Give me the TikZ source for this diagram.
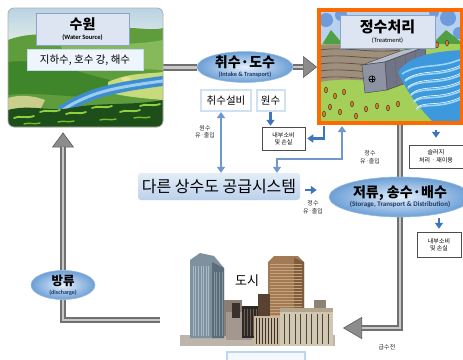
\documentclass[tikz,border=0pt]{standalone}
\usepackage{fontspec}
\setmainfont{Noto Sans CJK KR}
\newfontfamily\enf{Carlito}
\usetikzlibrary{arrows.meta,shapes.geometric,backgrounds,calc}

% palette
\definecolor{pipedark}{HTML}{707070}
\definecolor{pipelight}{HTML}{C8C8C8}
\definecolor{pipehead}{HTML}{8C8C8C}
\definecolor{flowblue}{HTML}{3F76BB}
\definecolor{ellrim}{HTML}{6C9FD6}
\definecolor{ellcore}{HTML}{E4EFFB}
\definecolor{navy}{HTML}{1F3864}
\definecolor{boxedge}{HTML}{CFE1F3}
\definecolor{torange}{HTML}{FF6A00}
\definecolor{tsky}{HTML}{B7D1EE}
\definecolor{tcloud}{HTML}{6E9BDC}
\definecolor{thill}{HTML}{4FA043}
\definecolor{tfield}{HTML}{A4D05A}
\definecolor{tdot}{HTML}{E07A1C}
\definecolor{trock}{HTML}{9E8E7C}
\definecolor{trockd}{HTML}{5B4D40}
\definecolor{twater}{HTML}{3E98DC}
\definecolor{twaterl}{HTML}{9AD6F7}
\definecolor{damfront}{HTML}{8E93A4}
\definecolor{damtop}{HTML}{B8BCC9}
\definecolor{damside}{HTML}{6F7486}
% shorthand: \hx{RRGGBB} defines colour hRRGGBB
\newcommand\hx[1]{\definecolor{h#1}{HTML}{#1}}
\hx{B9D3E4}\hx{E2EDE6}\hx{5E9C3C}\hx{86B95A}\hx{3F862A}\hx{C5DB7C}\hx{E8E29A}
\hx{3C8ED0}\hx{9CCDEE}\hx{C9CF8A}\hx{1E4E1A}\hx{8FD13F}\hx{6FBF2C}\hx{8DA2C8}
\hx{DDE5F2}\hx{C8DCEF}\hx{EEF5FC}\hx{BDB4AA}\hx{7D919E}\hx{5C6D79}\hx{A9BAC4}
\hx{8596A0}\hx{8A7D76}\hx{A39790}\hx{3A322D}\hx{2E2824}\hx{6B5F55}\hx{A27B55}
\hx{7E5C3E}\hx{C8A27A}\hx{5A4232}\hx{C9B9A0}\hx{3B332A}\hx{D2C7B0}\hx{B2A68E}
\hx{4A473C}\hx{8E8276}\hx{BBD6F0}\hx{F4F8FC}\hx{E3EDF8}\hx{BBD1EB}

\tikzset{
  pipe/.style={draw=pipedark, line width=6.5pt, line join=miter},
  pipecore/.style={draw=pipelight, line width=2.2pt, line join=miter},
  pipetip/.style={-{Triangle[length=#1,width=22pt,line width=0.6pt,fill=pipehead,color=pipedark!80!black]}},
  ell/.style={ellipse, inner sep=0pt, draw=ellrim!70!white, line width=0.6pt,
    inner color=ellcore, outer color=ellrim, align=center, text=black},
  lightbox/.style={draw=boxedge, line width=2pt, fill=white, inner sep=0pt},
  lossbox/.style={draw=black!70, line width=0.5pt, fill=white, inner sep=0pt,
    minimum height=23pt, align=center, font=\fontsize{6}{7.5}\selectfont},
  note/.style={align=center, font=\fontsize{6}{7.5}\selectfont, text=black!85},
  flow/.style={draw=flowblue, line width=2.4pt, -{Triangle[length=6pt,width=8pt]}},
  flow2/.style={draw=flowblue!75!white, line width=2.4pt,
    {Triangle[length=6pt,width=8pt]}-{Triangle[length=6pt,width=8pt]}},
}

\begin{document}
\begin{tikzpicture}[x=1pt,y=-1pt]
\useasboundingbox (0,0) rectangle (463,359);

% ---------------- water source landscape ----------------
\begin{scope}
  \clip[rounded corners=6pt] (8,8) rectangle (163,127);
  \fill[top color=hB9D3E4, bottom color=hE2EDE6] (8,8) rectangle (163,45);
  \fill[h5E9C3C] (8,40) .. controls (40,28) and (70,40) .. (100,30)
     .. controls (125,24) and (150,32) .. (163,28) -- (163,127) -- (8,127) -- cycle;
  \fill[h86B95A] (60,45) .. controls (90,40) and (120,48) .. (163,40)
     -- (163,70) .. controls (130,68) and (100,72) .. (70,62) -- cycle;
  \fill[h3F862A] (8,62) .. controls (40,58) and (70,70) .. (110,80)
     -- (100,98) .. controls (60,96) and (30,92) .. (8,95) -- cycle;
  % field on the far bank
  \fill[hC5DB7C] (108,82) .. controls (130,72) and (150,74) .. (163,72)
     -- (163,100) .. controls (140,98) and (120,96) .. (108,92) -- cycle;
  \fill[hE8E29A] (126,79) ellipse (5 and 2);
  % river
  \draw[h3C8ED0, line width=10pt]
     (170,80) .. controls (140,84) and (110,88) .. (90,96)
     .. controls (70,104) and (55,112) .. (40,135);
  \draw[h9CCDEE, line width=3pt]
     (170,80) .. controls (140,84) and (110,88) .. (90,96)
     .. controls (70,104) and (55,112) .. (40,135);
  % near bank field and forest
  \fill[hC9CF8A] (8,98) .. controls (20,94) and (35,96) .. (45,100)
     -- (40,110) -- (8,112) -- cycle;
  \fill[h1E4E1A] (8,110) .. controls (30,104) and (50,112) .. (70,108)
     .. controls (100,102) and (130,106) .. (163,100) -- (163,127) -- (8,127) -- cycle;
  \foreach \a/\b in {14/118, 40/112, 66/114, 92/108, 120/112, 140/106}
    \draw[h8FD13F, line width=1.8pt, line cap=round]
      (\a,\b) .. controls (\a+6,\b-3) and (\a+12,\b+1) .. (\a+20,\b-2);
  \foreach \a/\b in {24/124, 58/122, 100/120, 134/118}
    \draw[h6FBF2C, line width=1.4pt, line cap=round]
      (\a,\b) .. controls (\a+6,\b-2) and (\a+10,\b+1) .. (\a+16,\b-1);
\end{scope}
\node[draw=black!30, rounded corners=6pt, line width=0.8pt,
  minimum width=155pt, minimum height=119pt, inner sep=0pt] (src) at (85.5,67.5) {};
\node[draw=h8DA2C8, fill=hDDE5F2, line width=0.8pt, minimum width=93pt,
  minimum height=32pt, inner sep=0pt, align=center] (srct) at (82.5,29)
  {{\fontsize{14}{15}\selectfont\bfseries 수원}\\[-2pt]{\enf\bfseries\fontsize{6.5}{7}\selectfont (Water Source)}};
\node[draw=hC8DCEF, fill=hEEF5FC, minimum width=116pt, minimum height=21pt,
  inner sep=0pt] (srcs) at (85,60) {\fontsize{10.5}{11}\selectfont 지하수, 호수 강, 해수};

% ---------------- treatment scene ----------------
\begin{scope}
  \clip (320,12) rectangle (461,121);
  \fill[tsky] (320,12) rectangle (461,50);
  \foreach \cx/\cy/\r in {326/20/7, 341/15/6, 448/18/8, 459/33/6, 434/13/5}
    \fill[tcloud] (\cx,\cy) circle (\r);
  \fill[thill] (320,48) -- (331,30) -- (346,48) -- cycle;
  \fill[thill] (428,48) -- (446,30) -- (461,42) -- (461,48) -- cycle;
  \fill[tfield] (320,44) rectangle (461,121);
  \foreach \dx/\dy in {326/90, 335/96, 330/107, 344/92, 352/104, 324/114,
      340/112, 366/109, 377/106, 388/108, 398/104, 356/116,
      437/45, 447/43, 453/54, 443/58, 457/64}
    \filldraw[fill=tdot, draw=black!80, line width=0.4pt] (\dx,\dy) ellipse (1.6 and 2.8);
  % rock strata
  \fill[trock] (320,45) .. controls (345,42) and (370,50) .. (400,46)
     -- (400,80) .. controls (375,84) and (350,76) .. (320,82) -- cycle;
  \foreach \k in {0,1,2,3,4}
    \draw[trockd, line width=0.7pt]
      (320,50+7*\k) .. controls (345,46+7*\k) and (370,54+7*\k) .. (400,50+7*\k);
  % sluice structure
  \filldraw[fill=damtop, draw=black!70, line width=0.5pt]
    (362,65) -- (403,50) -- (425,47) -- (385,62) -- cycle;
  \filldraw[fill=damside, draw=black!70, line width=0.5pt]
    (385,62) -- (425,47) -- (428,75) -- (387,90) -- cycle;
  \filldraw[fill=damfront, draw=black!70, line width=0.5pt]
    (362,65) -- (385,62) -- (387,90) -- (365,93) -- cycle;
  \foreach \k in {1,2,3}
    \draw[black!60, line width=0.4pt] (385+10*\k,62-3.7*\k) -- (387+10*\k,90-3.7*\k);
  \draw[black, line width=0.6pt] (372,79) circle (3.2);
  \draw[black, line width=0.6pt] (368.8,79) -- (375.2,79) (372,75.8) -- (372,82.2);
  % water rushing out
  \fill[twater] (398,72) .. controls (408,58) and (425,52) .. (463,50)
     -- (463,121) -- (432,121) .. controls (420,108) and (408,95) .. (398,72) -- cycle;
  \foreach \s in {0,8,16,24,32,40}
    \draw[twaterl, line width=1.6pt]
      (402+\s*0.35,74+\s*0.9) .. controls (420,62+\s) and (440,70+\s) .. (463,58+\s);
  \foreach \s in {4,12,20,28,36}
    \draw[white, line width=0.6pt]
      (404+\s*0.35,76+\s*0.9) .. controls (422,64+\s) and (442,72+\s) .. (463,60+\s);
\end{scope}
\node[draw=torange, line width=4pt, minimum width=143pt, minimum height=113pt,
  inner sep=0pt] (treat) at (390.5,66.5) {};
\node[draw=h8DA2C8, fill=hDDE5F2, line width=0.8pt, minimum width=95pt,
  minimum height=33pt, inner sep=0pt, align=center] (treatt) at (387.5,31.5)
  {{\fontsize{15}{16}\selectfont\bfseries 정수처리}\\[-2pt]{\enf\fontsize{6.5}{7}\selectfont (Treatment)}};

% ---------------- city skyline ----------------
\begin{scope}
  \fill[hBDB4AA] (180,335) rectangle (335,346);
  % slim glass tower
  \fill[h7D919E] (190,260) -- (200,253) -- (214,256) -- (224,268) -- (224,338) -- (190,338) -- cycle;
  \fill[h5C6D79] (212,262) -- (224,268) -- (224,338) -- (212,338) -- cycle;
  \foreach \k in {0,...,6} \draw[hA9BAC4, line width=0.5pt] (193+2.6*\k,266) -- (193+2.6*\k,336);
  \foreach \k in {0,...,3} \draw[h8596A0, line width=0.5pt] (214+2.6*\k,272) -- (214+2.6*\k,336);
  % low fillers
  \fill[h8A7D76] (224,300) rectangle (242,336);
  \fill[hA39790] (226,312) rectangle (252,340);
  \fill[h3A322D] (232,303) rectangle (240,318);
  % dark block
  \fill[h2E2824] (242,306) rectangle (264,338);
  \foreach \k in {0,...,6} \draw[h6B5F55, line width=0.5pt] (244+3*\k,309) -- (244+3*\k,336);
  % brown tower
  \fill[hA27B55] (268,262) -- (274,256) -- (298,256) -- (304,262) -- (304,318) -- (268,318) -- cycle;
  \fill[h7E5C3E] (294,258) -- (304,262) -- (304,318) -- (294,318) -- cycle;
  \foreach \k in {0,...,18} \draw[hC8A27A, line width=0.4pt] (270,264+3*\k) -- (302,264+3*\k);
  \fill[h5A4232] (258,294) rectangle (270,330);
  % front striped blocks
  \fill[hC9B9A0] (254,316) rectangle (282,346);
  \foreach \k in {0,...,8} \draw[h3B332A, line width=0.6pt] (256+3*\k,318) -- (256+3*\k,344);
  \fill[hD2C7B0] (280,308) rectangle (333,346);
  \fill[hB2A68E] (280,308) rectangle (333,312);
  \foreach \k in {0,...,8} \draw[h4A473C, line width=0.9pt] (284+5.5*\k,314) -- (284+5.5*\k,344);
  \fill[h8E8276] (314,300) rectangle (326,308);
\end{scope}
\node[minimum width=155pt, minimum height=92pt, inner sep=0pt] (city) at (257,299) {};
\node[font=\fontsize{13}{14}\selectfont] (citylbl) at (247,281) {도시};

% partly visible box beneath the city
\begin{scope}
  \clip (0,0) rectangle (463,359);
  \node[draw=hBBD6F0, line width=1.5pt, fill=hF4F8FC, minimum width=78pt,
    minimum height=14pt, inner sep=0pt] (below) at (266,359) {};
\end{scope}

% ---------------- labelled stages ----------------
\node[ell, minimum width=96pt, minimum height=28pt] (intake) at (245,67)
  {{\fontsize{14}{14}\selectfont\bfseries 취수·도수}\\[-3pt]{\enf\bfseries\fontsize{6.3}{7}\selectfont\color{navy}(Intake \& Transport)}};
\node[ell, minimum width=124pt, minimum height=40pt] (stor) at (400,197)
  {{\fontsize{14}{14}\selectfont\bfseries 저류, 송수·배수}\\[-3pt]{\enf\bfseries\fontsize{7}{7.5}\selectfont\color{navy}(Storage, Transport \& Distribution)}};
\node[ell, minimum width=64pt, minimum height=27pt] (dis) at (63,285)
  {{\fontsize{12.5}{12.5}\selectfont\bfseries 방류}\\[-3pt]{\enf\bfseries\fontsize{6}{6.5}\selectfont\color{navy}(discharge)}};

\node[lightbox, minimum width=50pt, minimum height=21pt] (fac) at (226,100.5)
  {\fontsize{10.5}{11}\selectfont 취수설비};
\node[lightbox, minimum width=28pt, minimum height=21pt] (raw) at (270.5,100.5)
  {\fontsize{10.5}{11}\selectfont 원수};
\node[lossbox, minimum width=43pt] (loss1) at (283.5,138.5) {내부소비\\및 손실};
\node[lossbox, minimum width=54pt] (sludge) at (436,156.5) {슬러지\\처리 · 재이용};
\node[lossbox, minimum width=44pt, minimum height=25pt] (loss2) at (439,244.5) {내부소비\\및 손실};

\node[rounded corners=3pt, top color=hE3EDF8, bottom color=hBBD1EB,
  minimum width=162pt, minimum height=27pt, inner sep=0pt] (other) at (219,186.5)
  {\fontsize{16}{17}\selectfont 다른 상수도 공급시스템};

\node[note] (n1) at (205,132) {원수\\유·출입};
\node[note] (n2) at (370,157) {정수\\유·출입};
\node[note] (n3) at (313,207) {정수\\유·출입};
\node[note] (n4) at (387,347) {급수전};

\coordinate (tl) at (324,126);
\coordinate (tu) at (342,126);
\coordinate (tapc) at (343,328);
\coordinate (outl) at (160,320);

% ---------------- gray mains, behind everything else ----------------
\begin{scope}[on background layer]
  \fill[white] (0,0) rectangle (463,359);
  \draw[pipe] (src.east) -- (src.east -| intake.west);
  \draw[pipecore] (src.east) -- (src.east -| intake.west);
  \draw[pipe, pipetip=14pt] (intake.east) -- (intake.east -| treat.west);
  \draw[pipecore, shorten >=14pt] (intake.east) -- (intake.east -| treat.west);
  \draw[pipe] (treat.south -| stor.north) -- (stor.north);
  \draw[pipecore] (treat.south -| stor.north) -- (stor.north);
  \draw[pipe, pipetip=19pt] (stor.south) -- (stor.south |- tapc) -- (tapc);
  \draw[pipecore, shorten >=19pt] (stor.south) -- (stor.south |- tapc) -- (tapc);
  \draw[pipe, pipetip=15pt, shorten >=5pt] (outl) -- (outl -| dis) -- (dis |- src.south);
  \draw[pipecore, shorten >=20pt] (outl) -- (outl -| dis) -- (dis |- src.south);
\end{scope}

% ---------------- blue flows ----------------
\draw[flow, shorten >=1pt] (raw.south) -- (raw.south |- loss1.north);
\draw[flow] (tl) -- (tl |- loss1.east) -- ([xshift=2pt]loss1.east);
\draw[flow2, line join=miter] ([xshift=58pt]other.north) -- ++(0,-14) -| (tu);
\draw[flow2] ([xshift=-5pt]fac.south) -- ([xshift=-5pt]fac.south |- other.north);
\draw[flow] ([xshift=5pt,yshift=-3.5pt]other.east) -- ([xshift=-12pt,yshift=7pt]stor.west);
\draw[flow, shorten <=5pt, shorten >=7pt] (sludge.north |- treat.south) -- (sludge.north);
\draw[flow, shorten <=1pt, shorten >=3pt] (stor.south -| loss2.north) -- (loss2.north);

\end{tikzpicture}
\end{document}
